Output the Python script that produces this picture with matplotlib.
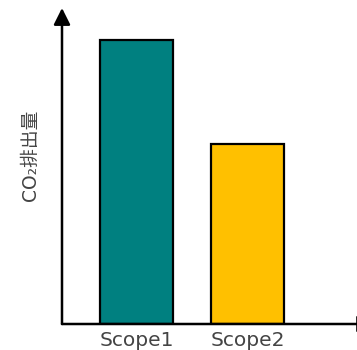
import matplotlib.pyplot as plt

# Data (arbitrary units)
categories = ["Scope1", "Scope2"]
emissions = [90, 57]
bar_colors = ["#008080", "#FFC000"]

W, H, DPI = 357, 350, 100
TEXT_GREY = "#444444"

plt.rcParams["font.family"] = ["DejaVu Sans", "Noto Sans CJK JP"]

fig = plt.figure(figsize=(W / DPI, H / DPI), dpi=DPI)

# axes box in pixels: left spine at x=62, bottom at y=324, top at y=8
left, bottom, top = 62, 324, 8
ax = fig.add_axes([left / W, (H - bottom) / H, (W - left) / W, (bottom - top) / H])

x = list(range(len(categories)))
ax.bar(x, emissions, width=0.655, color=bar_colors,
       edgecolor="black", linewidth=1.6, zorder=2)

ax.set_xlim(-0.668, 1.978)
ax.set_ylim(0, 100)

for s in ax.spines.values():
    s.set_visible(False)
ax.set_yticks([])
ax.set_xticks(x)
ax.set_xticklabels(categories, fontsize=14.5, color=TEXT_GREY)
ax.tick_params(axis="x", length=0, pad=5)

# arrow axes (x arrow runs past the right edge, only its base shows)
arrow_kw = dict(arrowstyle="-|>,head_length=1.0,head_width=0.5",
                color="black", lw=1.8, shrinkA=0, shrinkB=0)
ax.annotate("", xy=(0, 1.0), xytext=(0, 0), xycoords="axes fraction",
            arrowprops=arrow_kw, annotation_clip=False, zorder=3)
ax.annotate("", xy=(1.058, 0), xytext=(0, 0), xycoords="axes fraction",
            arrowprops=arrow_kw, annotation_clip=False, zorder=3)

fig.text(30 / W, 1 - 155 / H, "CO₂排出量", rotation=90, ha="center",
         va="center", fontsize=13.5, color=TEXT_GREY)

fig.savefig("out.png", dpi=DPI)
